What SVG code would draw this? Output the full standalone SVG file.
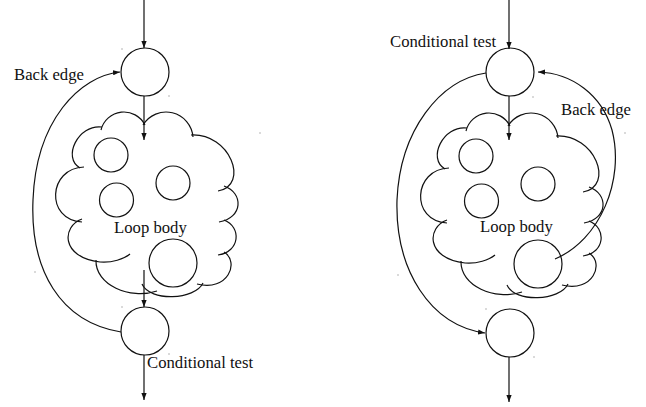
<svg xmlns="http://www.w3.org/2000/svg" xmlns:xlink="http://www.w3.org/1999/xlink" width="646" height="407" viewBox="0 0 646 407">
<style>
.ln{fill:none;stroke:#111;stroke-width:1.2}
.nd{fill:#fff;stroke:#111;stroke-width:1.2}
.in{fill:none;stroke:#111;stroke-width:1.2}
.tx{font-family:"Liberation Serif","Times New Roman",serif;font-size:16.7px;fill:#111}
.dot{fill:#999}
</style>
<defs>
<marker id="ah" viewBox="0 0 8 6" refX="8" refY="3" markerWidth="7" markerHeight="5.5" markerUnits="userSpaceOnUse" orient="auto">
<path d="M0,0 L8,3 L0,6 z" fill="#111"/>
</marker>
<g id="cloud" class="ln">
<path d="M101,130 A23.6,23.6 0 0 1 145,125"/>
<path d="M143,125 A27,27 0 0 1 193,137"/>
<path d="M191,135 C230,133 250,185 218,191"/>
<path d="M224,186 C244,193 243,218 219,222"/>
<path d="M224,220 C242,227 240,252 218,255"/>
<path d="M224,252 C240,262 228,292 197,284"/>
<path d="M203,283 C195,300 150,302 142,284"/>
<path d="M96,260 C95,285 130,300 157,291"/>
<path d="M82,219 C62,226 60,257 100,262 C112,263 124,259 130,254"/>
<path d="M84,167 C48,168 45,220 82,222"/>
<path d="M102,127 C78,124 62,158 80,168"/>
</g>
<g id="inner" class="in">
<circle cx="111" cy="155" r="17"/>
<circle cx="173" cy="183" r="17"/>
<circle cx="116.5" cy="200" r="17"/>
<circle cx="173" cy="263" r="24"/>
</g>
</defs>

<g id="left-loop-body">
<use xlink:href="#cloud"/>
<use xlink:href="#inner"/>
<text class="tx" x="114" y="233">Loop body</text>
</g>
<g id="left-top-node">
<circle class="nd" cx="145" cy="72" r="24"/>
</g>
<g id="left-bottom-node">
<circle class="nd" cx="145" cy="331" r="24"/>
<text class="tx" x="147" y="368">Conditional test</text>
</g>

<g id="right-loop-body">
<use xlink:href="#cloud" transform="translate(365,1)"/>
<use xlink:href="#inner" transform="translate(365,1)"/>
<text class="tx" x="480" y="232">Loop body</text>
</g>
<g id="right-top-node">
<circle class="nd" cx="510" cy="72" r="24"/>
<text class="tx" x="390" y="47">Conditional test</text>
</g>
<g id="right-bottom-node">
<circle class="nd" cx="510" cy="333" r="24"/>
</g>

<g id="connectors" class="ln">
<path d="M144,0 L144,48" marker-end="url(#ah)"/>
<path d="M144,96 L144,140" marker-end="url(#ah)"/>
<path d="M144,270 L144,307" marker-end="url(#ah)"/>
<path d="M144,355 L144,400" marker-end="url(#ah)"/>
<path d="M121,332 C60,322 30,270 33,200 C36,120 80,76 120,72" marker-end="url(#ah)"/>
<path d="M509,0 L509,49" marker-end="url(#ah)"/>
<path d="M509,96 L509,140" marker-end="url(#ah)"/>
<path d="M509,357 L509,402" marker-end="url(#ah)"/>
<path d="M486,73 C440,80 400,130 397,200 C395,270 430,325 485,333" marker-end="url(#ah)"/>
<path d="M555,259 C600,240 625,180 612,130 C602,95 572,73 538,72" marker-end="url(#ah)"/>
</g>
<g id="labels">
<text class="tx" x="14" y="80">Back edge</text>
<text class="tx" x="561" y="115">Back edge</text>
</g>
<g id="specks">
<circle class="dot" cx="122" cy="49" r="0.7"/>
<circle class="dot" cx="169" cy="96" r="0.7"/>
<circle class="dot" cx="260" cy="133" r="0.7"/>
<circle class="dot" cx="35" cy="272" r="0.7"/>
<circle class="dot" cx="122" cy="307" r="0.7"/>
<circle class="dot" cx="169" cy="354" r="0.7"/>
<circle class="dot" cx="625" cy="133" r="0.7"/>
<circle class="dot" cx="398" cy="275" r="0.7"/>
<circle class="dot" cx="486" cy="309" r="0.7"/>
<circle class="dot" cx="534" cy="357" r="0.7"/>
<circle class="dot" cx="533" cy="97" r="0.7"/>
</g>
</svg>
